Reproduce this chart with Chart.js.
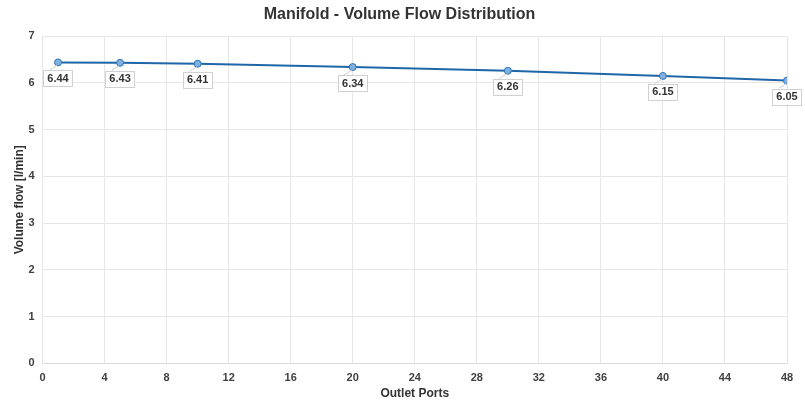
<!DOCTYPE html>
<html>
<head>
<meta charset="utf-8">
<script src="https://cdn.jsdelivr.net/npm/chart.js@4/dist/chart.umd.min.js"></script>
<style>
  html, body { margin: 0; padding: 0; background: #fff; }
  #wrap { width: 805px; height: 401px; }
</style>
</head>
<body>
<div id="wrap"><canvas id="flowChart"></canvas></div>
<script>
// outlet port numbers and measured volume flow [l/min]
var ports = [1, 5, 10, 20, 30, 40, 48];
var flows = [6.44, 6.43, 6.41, 6.34, 6.26, 6.15, 6.05];

var points = ports.map(function(p, i) { return { x: p, y: flows[i] }; });

// boxed value labels under each point, with a short leader line
var boxLabels = {
  id: 'boxLabels',
  afterDatasetsDraw: function(chart) {
    var ctx = chart.ctx;
    var meta = chart.getDatasetMeta(0);
    ctx.save();
    ctx.font = 'bold 11px "Liberation Sans", Arial, sans-serif';
    ctx.textAlign = 'center';
    ctx.textBaseline = 'middle';
    meta.data.forEach(function(pt, i) {
      var txt = flows[i].toFixed(2);
      var w = ctx.measureText(txt).width + 8, h = 16;
      var cx = pt.x, top = pt.y + 8;
      if (cx + w / 2 > chart.width - 2) cx = chart.width - 2 - w / 2;
      ctx.strokeStyle = '#d0d0d0';
      ctx.lineWidth = 1;
      ctx.beginPath();
      ctx.moveTo(pt.x - 1, pt.y + 3);
      ctx.lineTo(cx - w / 2 + 6, top);
      ctx.stroke();
      ctx.fillStyle = '#fff';
      ctx.fillRect(cx - w / 2, top, w, h);
      ctx.strokeRect(Math.round(cx - w / 2) + 0.5, Math.round(top) + 0.5, Math.round(w), h);
      ctx.fillStyle = '#333';
      ctx.fillText(txt, cx, top + h / 2 + 0.5);
    });
    ctx.restore();
  }
};

Chart.defaults.font.family = '"Liberation Sans", Arial, sans-serif';
Chart.defaults.color = '#404040';

new Chart(document.getElementById('flowChart'), {
  type: 'line',
  data: {
    datasets: [{
      data: points,
      borderColor: '#1f66a8',
      borderWidth: 2,
      pointRadius: 3.5,
      pointBackgroundColor: '#7fb0df',
      pointBorderColor: '#2e75b6',
      pointBorderWidth: 1,
      tension: 0
    }]
  },
  options: {
    responsive: true,
    maintainAspectRatio: false,
    animation: false,
    layout: { padding: { left: 12, right: 18, top: 0, bottom: 0 } },
    plugins: {
      legend: { display: false },
      tooltip: { enabled: false },
      title: {
        display: true,
        text: 'Manifold - Volume Flow Distribution',
        color: '#333',
        font: { size: 16, weight: 'bold' },
        padding: { top: 5, bottom: 12 }
      }
    },
    scales: {
      x: {
        type: 'linear',
        min: 0, max: 48,
        ticks: { stepSize: 4, font: { size: 11, weight: 'bold' }, color: '#404040', padding: 8 },
        grid: { color: '#e6e6e6', drawTicks: false },
        border: { color: '#d9d9d9' },
        title: { display: true, text: 'Outlet Ports', font: { size: 12, weight: 'bold' }, color: '#333', padding: { top: -6, bottom: 0 } }
      },
      y: {
        min: 0, max: 7,
        ticks: { stepSize: 1, font: { size: 11, weight: 'bold' }, color: '#404040', padding: 8 },
        grid: { color: '#e6e6e6', drawTicks: false },
        border: { color: '#e6e6e6' },
        title: { display: true, text: 'Volume flow [l/min]', font: { size: 12, weight: 'bold' }, color: '#333', padding: { top: 0, bottom: -6 } }
      }
    }
  },
  plugins: [boxLabels]
});
</script>
</body>
</html>
